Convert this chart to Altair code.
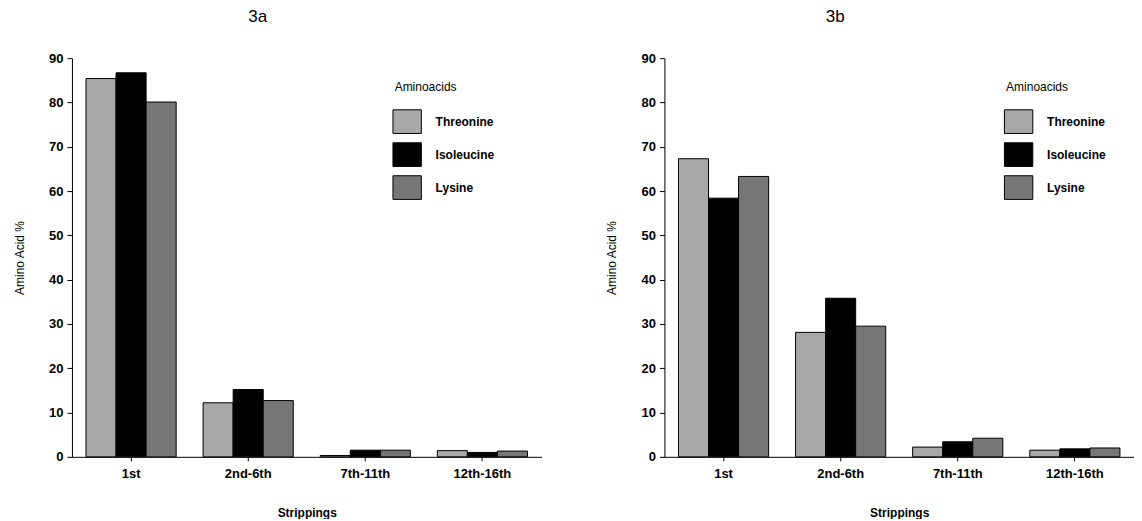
import altair as alt
import pandas as pd

strippings = ["1st", "2nd-6th", "7th-11th", "12th-16th"]
aminoacids = ["Threonine", "Isoleucine", "Lysine"]

# Panel 3a
threonine_3a = [85.4, 12.2, 0.3, 1.4]
isoleucine_3a = [86.7, 15.2, 1.5, 1.0]
lysine_3a = [80.1, 12.7, 1.5, 1.3]

# Panel 3b
threonine_3b = [67.3, 28.1, 2.2, 1.5]
isoleucine_3b = [58.4, 35.8, 3.4, 1.8]
lysine_3b = [63.3, 29.5, 4.2, 2.0]

fill_colors = ["#a8a8a8", "#000000", "#767676"]
y_ticks = list(range(0, 91, 10))
FONT = "Liberation Sans"


def panel(title, thr, iso, lys, legend_x, title_dx):
    df = pd.DataFrame({
        "Strippings": strippings * 3,
        "Aminoacid": [a for a in aminoacids for _ in strippings],
        "Value": thr + iso + lys,
    })
    return alt.Chart(
        df,
        title=alt.Title(title, dx=title_dx, fontSize=17, fontWeight="normal",
                        font=FONT, anchor="middle", offset=26),
    ).mark_bar(stroke="black", strokeWidth=1).encode(
        x=alt.X("Strippings:N", sort=strippings,
                scale=alt.Scale(paddingInner=0.23, paddingOuter=0.12),
                axis=alt.Axis(labelAngle=0, title="Strippings", titlePadding=27,
                              labelPadding=7, tickSize=4)),
        xOffset=alt.XOffset("Aminoacid:N", sort=aminoacids,
                            scale=alt.Scale(paddingInner=0, paddingOuter=0)),
        y=alt.Y("Value:Q", scale=alt.Scale(domain=[0, 90], nice=False),
                axis=alt.Axis(values=y_ticks, title="Amino Acid %", tickSize=5,
                              labelPadding=4, titlePadding=22)),
        fill=alt.Fill("Aminoacid:N", sort=aminoacids,
                      scale=alt.Scale(domain=aminoacids, range=fill_colors),
                      legend=alt.Legend(
                          orient="none", legendX=legend_x, legendY=24,
                          title="Aminoacids", titleFontSize=12,
                          titleFontWeight="normal", titleFont=FONT,
                          titlePadding=15, labelFontSize=12,
                          labelFontWeight="bold", labelFont=FONT,
                          symbolType="M-1.2,-1H1.2V1H-1.2Z", symbolSize=560,
                          symbolStrokeColor="black", symbolStrokeWidth=1,
                          symbolOpacity=1, rowPadding=4, labelOffset=16)),
    ).properties(width=470, height=399)


left = panel("3a", threonine_3a, isoleucine_3a, lysine_3a, 323, -49)
right = panel("3b", threonine_3b, isoleucine_3b, lysine_3b, 342, -64)

chart = alt.hconcat(left, right, spacing=64).resolve_scale(
    fill="independent").resolve_legend(fill="independent").properties(
    padding={"left": 5, "top": 0, "right": 0, "bottom": 0}
).configure_view(stroke=None).configure_axis(
    grid=False, domainColor="black", tickColor="black", labelColor="black",
    titleColor="black", labelFont=FONT, titleFont=FONT, labelFontSize=13,
    labelFontWeight="bold", titleFontSize=12, titleFontWeight="normal",
).configure_axisX(titleFontWeight="bold")

chart.save("out.html", embed_options={"renderer": "svg", "actions": False})
